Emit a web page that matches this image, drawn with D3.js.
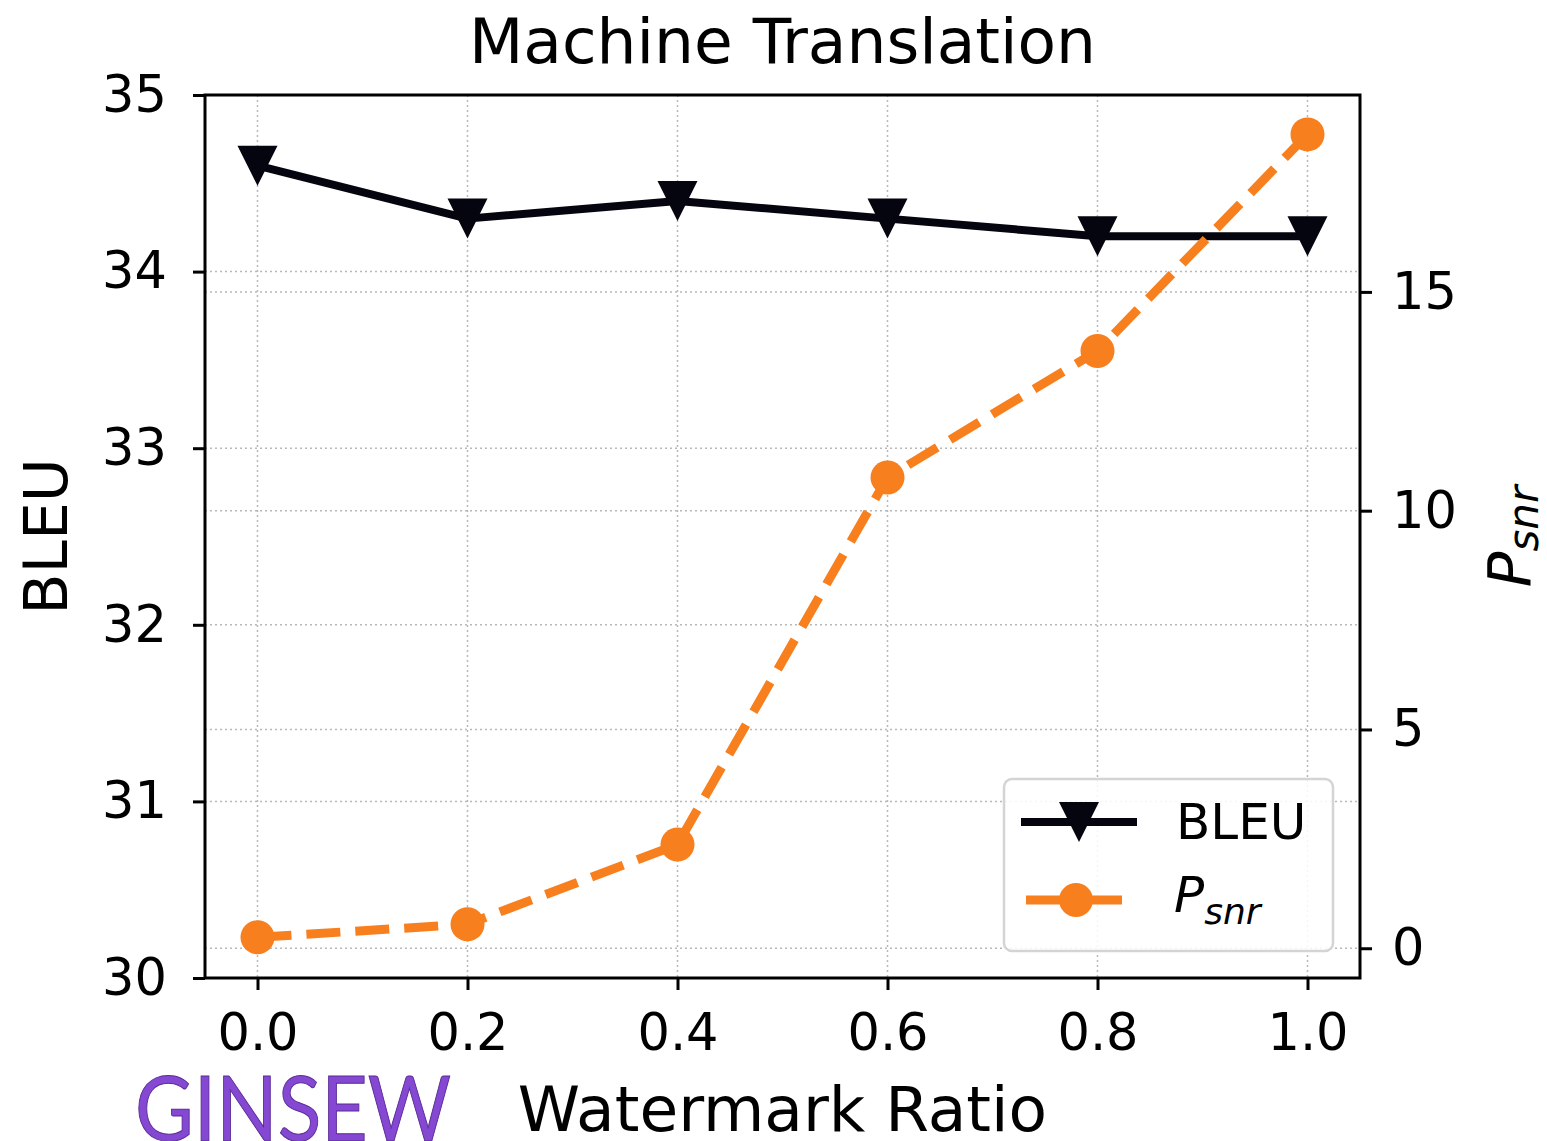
<!DOCTYPE html>
<html lang="en">
<head>
<meta charset="utf-8" />
<title>Machine Translation</title>
<script src="https://d3js.org/d3.v7.min.js"></script>
<style>
  body { margin: 0; background: #fff; }
  text { font-family: "DejaVu Sans", sans-serif; fill: #000; }
  .grid line { stroke: #b8b8b8; stroke-width: 1.5px; stroke-dasharray: 2,3; }
  .axis path, .axis line { stroke: #000; stroke-width: 3px; }
</style>
</head>
<body>
<script>
// data
var ratios = [0.0, 0.2, 0.4, 0.6, 0.8, 1.0];
var bleu = [34.6, 34.3, 34.4, 34.3, 34.2, 34.2];
var psnr = [0.25, 0.55, 2.37, 10.76, 13.65, 18.6];
var xTicks = [0.0, 0.2, 0.4, 0.6, 0.8, 1.0];
var leftTicks = [30, 31, 32, 33, 34, 35];
var rightTicks = [0, 5, 10, 15];

var W = 1547, H = 1141;
var margin = {top: 95, right: 187, bottom: 163, left: 205},
    width = W - margin.left - margin.right,
    height = H - margin.top - margin.bottom;

var x = d3.scaleLinear().domain([-0.05, 1.05]).range([0, width]);
var yL = d3.scaleLinear().domain([30, 35]).range([height, 0]);
var yR = d3.scaleLinear().domain([-0.68, 19.5]).range([height, 0]);

var svg = d3.select("body").append("svg")
    .attr("width", W).attr("height", H);
var g = svg.append("g")
    .attr("transform", "translate(" + margin.left + "," + margin.top + ")");

// grids
g.append("g").attr("class", "grid")
  .selectAll("line").data(xTicks).enter().append("line")
  .attr("x1", d => x(d)).attr("x2", d => x(d)).attr("y1", 0).attr("y2", height);
g.append("g").attr("class", "grid")
  .selectAll("line").data(leftTicks).enter().append("line")
  .attr("x1", 0).attr("x2", width).attr("y1", d => yL(d)).attr("y2", d => yL(d));
g.append("g").attr("class", "grid")
  .selectAll("line").data(rightTicks).enter().append("line")
  .attr("x1", 0).attr("x2", width).attr("y1", d => yR(d)).attr("y2", d => yR(d));

var black = "#05050f", orange = "#f77f1e";

// BLEU line
var lineL = d3.line().x((d, i) => x(ratios[i])).y(d => yL(d));
g.append("path").datum(bleu)
  .attr("d", lineL).attr("fill", "none")
  .attr("stroke", black).attr("stroke-width", 8).attr("stroke-linejoin", "round");

var tri = "M-20,-20 L20,-20 L0,20 Z";
g.selectAll(".tri").data(bleu).enter().append("path")
  .attr("class", "tri")
  .attr("d", tri).attr("fill", black)
  .attr("transform", (d, i) => "translate(" + x(ratios[i]) + "," + yL(d) + ")");

// Psnr line
var lineR = d3.line().x((d, i) => x(ratios[i])).y(d => yR(d));
g.append("path").datum(psnr)
  .attr("d", lineR).attr("fill", "none")
  .attr("stroke", orange).attr("stroke-width", 9).attr("stroke-dasharray", "34,15");

g.selectAll(".dot").data(psnr).enter().append("circle")
  .attr("class", "dot")
  .attr("cx", (d, i) => x(ratios[i])).attr("cy", d => yR(d))
  .attr("r", 17).attr("fill", orange);

// axes
var ax = g.append("g").attr("class", "axis")
  .attr("transform", "translate(0," + height + ")")
  .call(d3.axisBottom(x).tickValues(xTicks).tickFormat(d3.format(".1f")).tickSize(12).tickPadding(24).tickSizeOuter(0));
var al = g.append("g").attr("class", "axis")
  .call(d3.axisLeft(yL).tickValues(leftTicks).tickFormat(d3.format("d")).tickSize(12).tickPadding(26).tickSizeOuter(0));
var ar = g.append("g").attr("class", "axis")
  .attr("transform", "translate(" + width + ",0)")
  .call(d3.axisRight(yR).tickValues(rightTicks).tickSize(12).tickPadding(20).tickSizeOuter(0));
[ax, al, ar].forEach(a => a.selectAll("text").style("font-size", "51px").attr("fill", "#000"));
ax.select(".domain").remove();
al.select(".domain").remove();
ar.select(".domain").remove();

// frame
g.append("rect").attr("x", 0).attr("y", 0).attr("width", width).attr("height", height)
  .attr("fill", "none").attr("stroke", "#000").attr("stroke-width", 3);

// title and labels
svg.append("text").attr("x", margin.left + width / 2).attr("y", 63)
  .attr("text-anchor", "middle").style("font-size", "63px").text("Machine Translation");
svg.append("text").attr("x", margin.left + width / 2).attr("y", 1131)
  .attr("text-anchor", "middle").style("font-size", "63px").text("Watermark Ratio");
svg.append("text")
  .attr("transform", "translate(67," + (margin.top + height / 2) + ") rotate(-90)")
  .attr("text-anchor", "middle").style("font-size", "60px").text("BLEU");
var rl = svg.append("text")
  .attr("transform", "translate(1530," + (margin.top + height / 2) + ") rotate(-90)")
  .attr("text-anchor", "middle").style("font-size", "59px").style("font-style", "italic");
rl.append("tspan").text("P");
rl.append("tspan").attr("dy", 8).style("font-size", "42px").text("snr");

// legend
var lg = svg.append("g").attr("transform", "translate(1004,779)");
lg.append("rect").attr("width", 329).attr("height", 172).attr("rx", 8)
  .attr("fill", "#fff").attr("fill-opacity", 0.85).attr("stroke", "#d4d4d4").attr("stroke-width", 2.5);
lg.append("line").attr("x1", 17).attr("x2", 133).attr("y1", 43).attr("y2", 43)
  .attr("stroke", black).attr("stroke-width", 8);
lg.append("path").attr("d", tri).attr("fill", black).attr("transform", "translate(75,43)");
lg.append("text").attr("x", 172).attr("y", 60).style("font-size", "50px").text("BLEU");
lg.append("line").attr("x1", 22).attr("x2", 118).attr("y1", 121).attr("y2", 121)
  .attr("stroke", orange).attr("stroke-width", 9);
lg.append("circle").attr("cx", 72).attr("cy", 121).attr("r", 17).attr("fill", orange);
var lt = lg.append("text").attr("x", 170).attr("y", 133).style("font-size", "50px").style("font-style", "italic");
lt.append("tspan").text("P");
lt.append("tspan").attr("dy", 12).style("font-size", "36px").text("snr");

// watermark
svg.append("text").attr("x", 135).attr("y", 1141)
  .attr("textLength", 316).attr("lengthAdjust", "spacingAndGlyphs")
  .style("font-family", "Lato, sans-serif").style("font-size", "92px")
  .style("fill", "#8548d2").style("stroke", "#5b2a95").style("stroke-width", 1)
  .text("GINSEW");
</script>
</body>
</html>
